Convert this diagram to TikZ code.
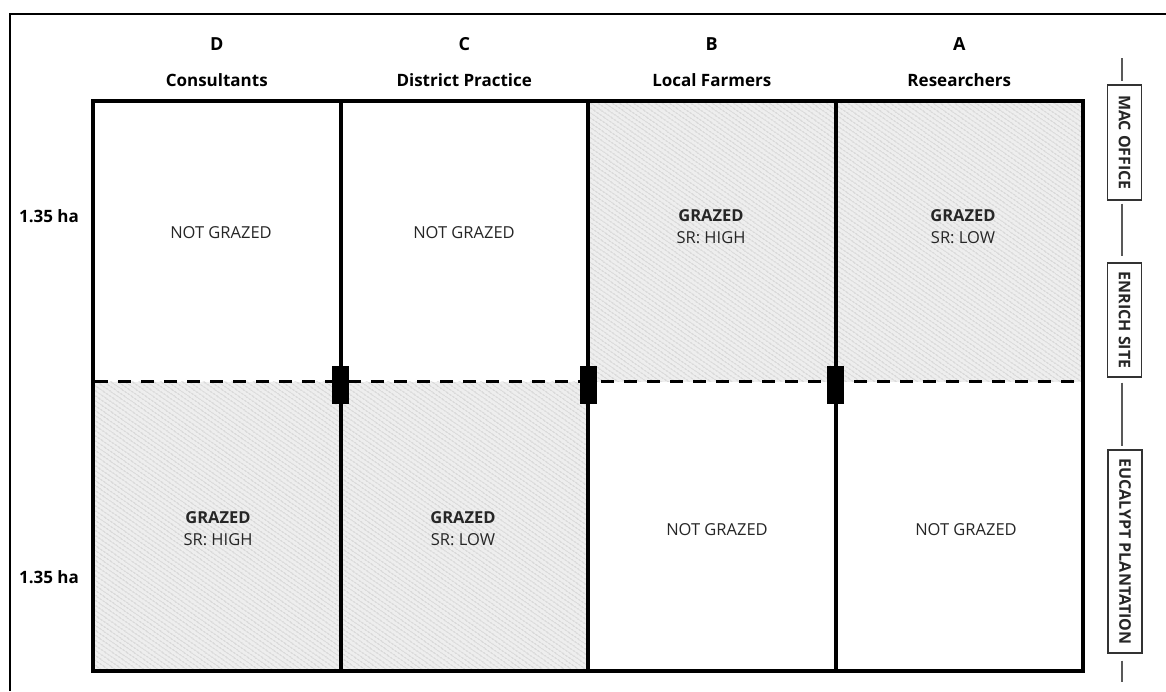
\documentclass[tikz,border=0pt]{standalone}
\usepackage{fontspec}
\setmainfont{Open Sans}
\usetikzlibrary{patterns.meta}
\begin{document}
\begin{tikzpicture}[x=1pt,y=-1pt,
  hatch/.style={fill=gray!13, postaction={pattern={Lines[angle=-35,distance=4pt,line width=0.9pt]},pattern color=gray!55}},
  celltxt/.style={font=\fontsize{16.5}{22}\selectfont, text=black!85, align=center, inner sep=0pt},
  head/.style={font=\bfseries\fontsize{17}{20}\selectfont, inner sep=0pt},
  letter/.style={font=\bfseries\fontsize{18}{20}\selectfont, inner sep=0pt},
  area/.style={font=\bfseries\fontsize{17}{20}\selectfont, inner sep=0pt},
  place/.style={draw=black!80, line width=1.2pt, rotate=-90, font=\bfseries\fontsize{16}{18}\selectfont, text=black!85, minimum height=34pt, inner sep=0pt},
  gate/.style={fill=black, minimum width=17pt, minimum height=38pt, inner sep=0pt},
  link/.style={draw=black!65, line width=1.5pt},
  gridline/.style={line width=4pt}
]
\useasboundingbox (0,0) rectangle (1166,691);
\fill[white] (0,0) rectangle (1166,691);
% outer frame
\draw[line width=2pt] (10,691) -- (10,14) -- (1166,14);
% hatched paddocks
\path[hatch] (588,101) rectangle (1083,381.5);
\path[hatch] (93,381.5) rectangle (588,671);
% dashed fence
\draw[line width=3pt, dash pattern=on 13pt off 10pt] (95,381.5) -- (1083,381.5);
% grid
\draw[gridline] (93,101) rectangle (1083,671);
\draw[gridline] (340.5,101) -- (340.5,671);
\draw[gridline] (588,101) -- (588,671);
\draw[gridline] (835.5,101) -- (835.5,671);
% gates
\node[gate] (g1) at (340.5,385) {};
\node[gate] (g2) at (588,385) {};
\node[gate] (g3) at (835.5,385) {};
% headers
\node[letter] (lD) at (216.75,44) {D};
\node[letter] (lC) at (464.25,44) {C};
\node[letter] (lB) at (711.75,44) {B};
\node[letter] (lA) at (959.25,44) {A};
\node[head] (nD) at (216.75,80) {Consultants};
\node[head] (nC) at (464.25,80) {District Practice};
\node[head] (nB) at (711.75,80) {Local Farmers};
\node[head] (nA) at (959.25,80) {Researchers};
% areas
\node[area] (a1) at (49,216) {1.35 ha};
\node[area] (a2) at (49,577) {1.35 ha};
% cell texts
\node[celltxt] (tD) at (221,233) {NOT GRAZED};
\node[celltxt] (tC) at (464,233) {NOT GRAZED};
\node[celltxt] (tB) at (711,227) {\textbf{GRAZED}\\SR: HIGH};
\node[celltxt] (tA) at (963,227) {\textbf{GRAZED}\\SR: LOW};
\node[celltxt] (bD) at (218,529) {\textbf{GRAZED}\\SR: HIGH};
\node[celltxt] (bC) at (463,529) {\textbf{GRAZED}\\SR: LOW};
\node[celltxt] (bB) at (717,530) {NOT GRAZED};
\node[celltxt] (bA) at (966,530) {NOT GRAZED};
% right-hand site labels
\node[place, minimum width=115pt] (mac) at (1124.5,142.5) {MAC OFFICE};
\node[place, minimum width=114pt] (enr) at (1124.5,320) {ENRICH SITE};
\node[place, minimum width=203pt] (euc) at (1125,551.5) {EUCALYPT PLANTATION};
\coordinate (s1) at (1122,58);
\coordinate (s2) at (1122,682);
\draw[link, shorten >=3pt] (s1) -- (s1 |- mac.west);
\draw[link, shorten <=3pt, shorten >=6pt] (s1 |- mac.east) -- (s1 |- enr.west);
\draw[link, shorten <=5pt, shorten >=3pt] (s1 |- enr.east) -- (s1 |- euc.west);
\draw[link, shorten <=7pt] (s1 |- euc.east) -- (s2);
\end{tikzpicture}
\end{document}
